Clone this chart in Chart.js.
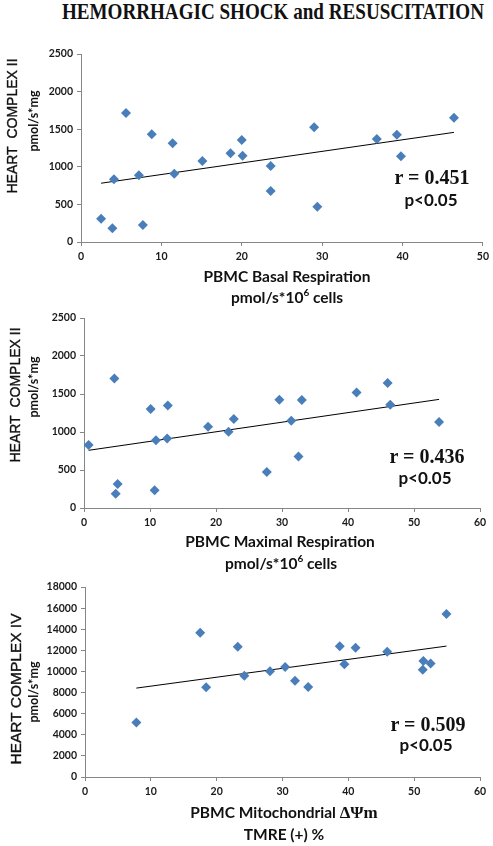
<!DOCTYPE html>
<html>
<head>
<meta charset="utf-8">
<script src="https://cdn.jsdelivr.net/npm/chart.js@4.4.1/dist/chart.umd.min.js"></script>
<style>
  body { margin: 0; background: #fff; width: 493px; height: 846px; position: relative; overflow: hidden; }
  .box { position: absolute; left: 0; width: 493px; }
  .t { position: absolute; white-space: nowrap; transform: translate(-50%, -50%); color: #111; }
  .rot { transform: translate(-50%, -50%) rotate(-90deg); }
  .cal { font-family: Lato, sans-serif; font-weight: bold; }
  .ser { font-family: "Liberation Serif", serif; font-weight: bold; }
  .ari { font-family: "Liberation Sans", Arial, sans-serif; -webkit-text-stroke: 0.35px #111; }
</style>
</head>
<body>
<div class="t ser" style="left:273px; top:12px; font-size:23px; transform: translate(-50%, -50%) scaleX(0.83);">HEMORRHAGIC SHOCK and RESUSCITATION</div>

<div class="box" style="top:40px; height:265px;"><canvas id="c1"></canvas></div>
<div class="box" style="top:305px; height:265px;"><canvas id="c2"></canvas></div>
<div class="box" style="top:570px; height:276px;"><canvas id="c3"></canvas></div>

<!-- panel 1 texts -->
<div class="t ari rot" style="left:12px; top:126px; font-size:14px;">HEART&nbsp; COMPLEX II</div>
<div class="t cal rot" style="left:33px; top:121px; font-size:12.5px;">pmol/s*mg</div>
<div class="t cal" style="left:287px; top:276px; font-size:15.5px;">PBMC Basal Respiration</div>
<div class="t cal" style="left:287px; top:296px; font-size:15.5px;">pmol/s*10<sup style="font-size:10px">6</sup> cells</div>
<div class="t ser" style="left:432px; top:177px; font-size:20px;">r = 0.451</div>
<div class="t cal" style="left:431px; top:199px; font-size:17px;">p&lt;0.05</div>

<!-- panel 2 texts -->
<div class="t ari rot" style="left:15px; top:395px; font-size:14px;">HEART&nbsp; COMPLEX II</div>
<div class="t cal rot" style="left:33px; top:387px; font-size:12.5px;">pmol/s*mg</div>
<div class="t cal" style="left:280px; top:541px; font-size:15.5px;">PBMC Maximal Respiration</div>
<div class="t cal" style="left:281px; top:562px; font-size:15.5px;">pmol/s*10<sup style="font-size:10px">6</sup> cells</div>
<div class="t ser" style="left:427px; top:456px; font-size:20px;">r = 0.436</div>
<div class="t cal" style="left:425px; top:477px; font-size:17px;">p&lt;0.05</div>

<!-- panel 3 texts -->
<div class="t ari rot" style="left:16px; top:689px; font-size:15.5px;">HEART COMPLEX IV</div>
<div class="t cal rot" style="left:33px; top:692px; font-size:12.5px;">pmol/s*mg</div>
<div class="t cal" style="left:284px; top:813px; font-size:15.5px;">PBMC Mitochondrial <span class="ser" style="font-size:17px">ΔΨm</span></div>
<div class="t cal" style="left:284px; top:834px; font-size:15.5px;">TMRE (+) %</div>
<div class="t ser" style="left:428px; top:724px; font-size:20px;">r = 0.509</div>
<div class="t cal" style="left:426px; top:744px; font-size:17px;">p&lt;0.05</div>

<script>
// data
const basalX = [2.5, 3.9, 4.1, 5.6, 7.2, 7.7, 8.8, 11.4, 11.6, 15.1, 18.6, 20.0, 20.1, 23.6, 23.6, 29.0, 29.4, 36.8, 39.3, 39.8, 46.4];
const basalY = [310, 182, 834, 1715, 887, 226, 1432, 1312, 908, 1077, 1179, 1356, 1148, 1010, 678, 1525, 469, 1370, 1427, 1140, 1653];

const maxX = [0.7, 4.6, 4.8, 5.1, 10.1, 10.7, 10.9, 12.6, 12.7, 18.8, 21.9, 22.7, 27.7, 29.6, 31.4, 32.5, 33.0, 41.3, 46.0, 46.4, 53.8];
const maxY = [829, 1705, 188, 316, 1303, 232, 890, 916, 1350, 1070, 1004, 1171, 474, 1425, 1149, 679, 1421, 1521, 1645, 1359, 1132];

const tmreX = [7.8, 17.5, 18.4, 23.2, 24.2, 28.1, 30.4, 31.9, 33.9, 38.7, 39.4, 41.1, 45.9, 51.4, 51.3, 52.5, 54.9];
const tmreY = [5171, 13660, 8498, 12329, 9601, 10019, 10428, 9125, 8527, 12395, 10684, 12234, 11854, 10998, 10171, 10741, 15437];

const blue = '#4A7EBB';
const axisGrey = '#868686';

function pts(xs, ys) {
  return xs.map((x, i) => ({ x: x, y: ys[i] }));
}

// least squares trendline across the data range
function trend(xs, ys) {
  const n = xs.length;
  const mx = xs.reduce((a, b) => a + b, 0) / n;
  const my = ys.reduce((a, b) => a + b, 0) / n;
  let sxy = 0, sxx = 0;
  for (let i = 0; i < n; i++) {
    sxy += (xs[i] - mx) * (ys[i] - my);
    sxx += (xs[i] - mx) * (xs[i] - mx);
  }
  const b = sxy / sxx, a = my - b * mx;
  const x0 = Math.min(...xs), x1 = Math.max(...xs);
  return [{ x: x0, y: a + b * x0 }, { x: x1, y: a + b * x1 }];
}

function makeChart(id, xs, ys, opt) {
  const tickFont = { family: 'Lato', weight: 'bold', size: 10.5 };
  return new Chart(document.getElementById(id), {
    type: 'scatter',
    data: {
      datasets: [{
        data: pts(xs, ys),
        pointStyle: 'rectRot',
        pointRadius: 5,
        pointBackgroundColor: blue,
        pointBorderColor: blue,
        pointBorderWidth: 0,
        order: 1
      }, {
        data: trend(xs, ys),
        showLine: true,
        borderColor: '#000',
        borderWidth: 1,
        pointRadius: 0,
        order: 2
      }]
    },
    options: {
      responsive: true,
      maintainAspectRatio: false,
      animation: false,
      layout: { padding: { top: opt.top, right: opt.right, left: 0, bottom: 0 } },
      plugins: { legend: { display: false }, tooltip: { enabled: false } },
      scales: {
        x: {
          type: 'linear',
          min: 0,
          max: opt.xMax,
          ticks: { stepSize: 10, color: '#1a1a1a', font: tickFont, padding: 4, callback: v => String(v) },
          grid: { drawOnChartArea: false, drawTicks: true, tickLength: 4, color: axisGrey },
          border: { display: true, color: axisGrey },
          afterFit(scale) { scale.height = opt.xH; }
        },
        y: {
          type: 'linear',
          min: 0,
          max: opt.yMax,
          ticks: { stepSize: opt.yStep, color: '#1a1a1a', font: tickFont, padding: 4, callback: v => String(v) },
          grid: { drawOnChartArea: false, drawTicks: true, tickLength: 4, color: axisGrey },
          border: { display: true, color: axisGrey },
          afterFit(scale) { scale.width = opt.left; }
        }
      }
    }
  });
}

makeChart('c1', basalX, basalY, { top: 14, right: 9, left: 81, xH: 63, xMax: 50, yMax: 2500, yStep: 500 });
makeChart('c2', maxX, maxY, { top: 13, right: 13, left: 84, xH: 62, xMax: 60, yMax: 2500, yStep: 500 });
makeChart('c3', tmreX, tmreY, { top: 17, right: 13, left: 85, xH: 69, xMax: 60, yMax: 18000, yStep: 2000 });
</script>
</body>
</html>
